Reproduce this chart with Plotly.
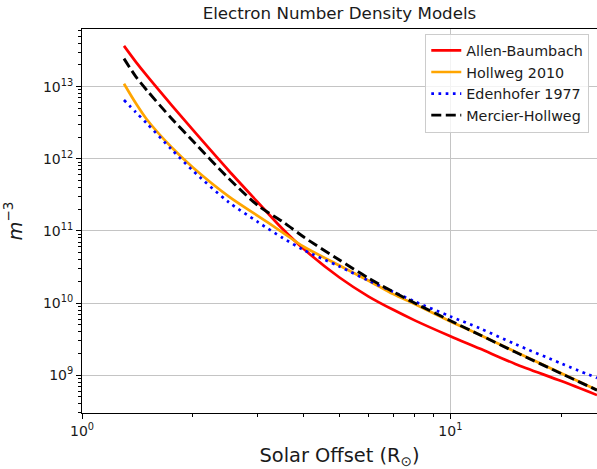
import math
import plotly.graph_objects as go

# Solar offset (R_sun) sample positions
offset_rsun = [1.3, 1.4, 1.5, 1.75, 2.0, 2.5, 3.0, 3.5, 4.0, 5.0, 6.0, 7.0, 8.0, 10.0, 12.0, 15.0, 20.0, 25.0]

# Electron number densities (m^-3)
allen_baumbach = [3.68e13, 2.21e13, 1.42e13, 5.55e12, 2.51e12, 6.88e11, 2.50e11, 1.07e11, 5.6e10,
                  2.26e10, 1.23e10, 8.05e9, 5.75e9, 3.46e9, 2.34e9, 1.43e9, 8.27e8, 5.29e8]
hollweg_2010 = [1.10e13, 5.89e12, 3.51e12, 1.445e12, 7.59e11, 3.02e11, 1.62e11, 9.55e10, 6.03e10,
                3.31e10, 2.04e10, 1.33e10, 9.66e9, 5.56e9, 3.63e9, 2.11e9, 1.06e9, 6.24e8]
edenhofer_1977 = [6.53e12, 4.42e12, 3.09e12, 1.35e12, 6.84e11, 2.51e11, 1.33e11, 8.04e10, 5.43e10,
                  3.21e10, 2.04e10, 1.43e10, 1.05e10, 6.53e9, 4.47e9, 2.69e9, 1.45e9, 9.12e8]
mercier_hollweg = [2.45e13, 1.38e13, 8.91e12, 3.63e12, 1.76e12, 5.37e11, 2.26e11, 1.35e11, 8.22e10,
                   3.94e10, 2.21e10, 1.43e10, 1.0e10, 5.69e9, 3.63e9, 2.09e9, 1.05e9, 6.21e8]

series_names = ["Allen-Baumbach", "Hollweg 2010", "Edenhofer 1977", "Mercier-Hollweg"]

x_tick_vals = [1, 10]
x_tick_text = ["10<sup>0</sup>", "10<sup>1</sup>"]
y_tick_vals = [1e9, 1e10, 1e11, 1e12, 1e13]
y_tick_text = ["10<sup>9</sup>", "10<sup>10</sup>", "10<sup>11</sup>", "10<sup>12</sup>", "10<sup>13</sup>"]

x_minor = [2, 3, 4, 5, 6, 7, 8, 9, 20]
y_minor = [m * 10 ** e for e in range(8, 14) for m in range(2, 10)]

styles = [
    dict(color="#ff0000", width=2.7, dash="solid"),
    dict(color="#ffa500", width=2.7, dash="solid"),
    dict(color="#0000ff", width=2.7, dash="2.7px,4.5px"),
    dict(color="#000000", width=2.9, dash="10px,4.5px"),
]

fig = go.Figure()
for name, ys, st in zip(series_names, [allen_baumbach, hollweg_2010, edenhofer_1977, mercier_hollweg], styles):
    fig.add_trace(go.Scatter(x=offset_rsun, y=ys, mode="lines", name=name,
                             line=dict(shape="spline", smoothing=0.8, **st),
                             legendgroup=name))

axis_common = dict(
    type="log", showline=True, linecolor="black", linewidth=1, mirror=True,
    ticks="outside", ticklen=5, tickwidth=1, tickcolor="black",
    showgrid=True, gridcolor="#c4c4c4", gridwidth=1, zeroline=False,
    tickfont=dict(size=14, color="#1a1a1a", family="DejaVu Sans"),
    tickmode="array",
)

fig.update_xaxes(**axis_common, range=[0, math.log10(25)], tickvals=x_tick_vals, ticktext=x_tick_text,
                 minor=dict(tickmode="array", tickvals=x_minor, ticks="outside", ticklen=2.8,
                            tickcolor="black", tickwidth=0.8, showgrid=False),
                 title=dict(text="Solar Offset (R<sub>⊙</sub>)", font=dict(size=19.4, color="#1a1a1a"),
                            standoff=15))
fig.update_yaxes(**axis_common, range=[8.475, 13.80], tickvals=y_tick_vals, ticktext=y_tick_text,
                 minor=dict(tickmode="array", tickvals=y_minor, ticks="outside", ticklen=2.8,
                            tickcolor="black", tickwidth=0.8, showgrid=False),
                 title=dict(text="<i>m</i><sup>−3</sup>", font=dict(size=19.4, color="#1a1a1a"),
                            standoff=15))

fig.update_layout(
    width=597, height=469,
    margin=dict(l=82, r=0, t=29, b=56),
    paper_bgcolor="white", plot_bgcolor="white",
    font=dict(family="DejaVu Sans", color="#1a1a1a"),
    title=dict(text="Electron Number Density Models", x=0.5, xref="paper", xanchor="center",
               y=1 - 13.5 / 469, yref="container", yanchor="middle",
               font=dict(size=16.7, color="#1a1a1a")),
    legend=dict(x=0.985, y=0.988, xanchor="right", yanchor="top",
                bgcolor="rgba(255,255,255,0.8)", bordercolor="#cccccc", borderwidth=1,
                font=dict(size=14.3, color="#1a1a1a"), tracegroupgap=0),
    showlegend=True,
)

fig.write_html("out.html", config={"displayModeBar": False},
               post_script="document.body.style.margin='0';document.body.style.overflow='hidden';")
